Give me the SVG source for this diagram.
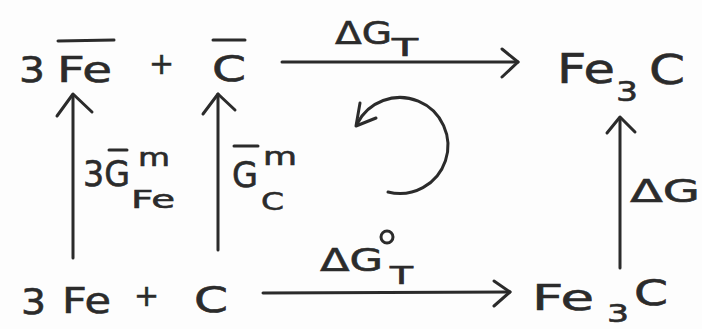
<svg xmlns="http://www.w3.org/2000/svg" width="702" height="329" viewBox="0 0 702 329">
<defs>
<style>
.t{font-family:"DejaVu Sans","Liberation Sans",sans-serif;fill:#2b2b2b;stroke:#2b2b2b;stroke-width:0.6}
.b{font-size:36px}
.s{font-size:25px}
.ln{stroke:#2b2b2b;stroke-width:3;fill:none;stroke-linecap:round;stroke-linejoin:round}
</style>
</defs>
<rect width="702" height="329" fill="#fdfdfd"/>
<g id="node-top-left">
<text class="t b" x="19" y="82" textLength="26" lengthAdjust="spacingAndGlyphs">3</text>
<text class="t b" x="57" y="82" textLength="55" lengthAdjust="spacingAndGlyphs">Fe</text>
<line class="ln" x1="58" y1="41" x2="114" y2="40"/>
<text class="t" x="149" y="74" font-size="30">+</text>
<text class="t b" x="212" y="81" textLength="34" lengthAdjust="spacingAndGlyphs">C</text>
<line class="ln" x1="213" y1="40" x2="245" y2="40"/>
</g>
<g id="node-top-right">
<text class="t" x="557" y="83" font-size="40" textLength="58" lengthAdjust="spacingAndGlyphs">Fe</text>
<text class="t" x="616" y="101" font-size="27" textLength="22" lengthAdjust="spacingAndGlyphs">3</text>
<text class="t" x="649" y="84" font-size="40" textLength="36" lengthAdjust="spacingAndGlyphs">C</text>
</g>
<g id="node-bottom-left">
<text class="t b" x="21" y="314" textLength="25" lengthAdjust="spacingAndGlyphs">3</text>
<text class="t b" x="62" y="313" textLength="49" lengthAdjust="spacingAndGlyphs">Fe</text>
<text class="t" x="134" y="306" font-size="30">+</text>
<text class="t b" x="194" y="312" textLength="34" lengthAdjust="spacingAndGlyphs">C</text>
</g>
<g id="node-bottom-right">
<text class="t b" x="532" y="310" textLength="62" lengthAdjust="spacingAndGlyphs">Fe</text>
<text class="t" x="607" y="322" font-size="24" textLength="22" lengthAdjust="spacingAndGlyphs">3</text>
<text class="t b" x="634" y="305" textLength="34" lengthAdjust="spacingAndGlyphs">C</text>
</g>
<g id="connectors">
<line class="ln" x1="282" y1="62" x2="518" y2="62"/>
<polyline class="ln" points="502,49 518,62 502,77"/>
<line class="ln" x1="263" y1="293" x2="510" y2="292"/>
<polyline class="ln" points="494,281 510,292 494,306"/>
<line class="ln" x1="73" y1="258" x2="73" y2="95"/>
<polyline class="ln" points="57,116 73,94 92,112"/>
<line class="ln" x1="218" y1="250" x2="218" y2="94"/>
<polyline class="ln" points="203,114 218,94 235,110"/>
<line class="ln" x1="620" y1="268" x2="620" y2="118"/>
<polyline class="ln" points="607,133 620,117 635,132"/>
<path class="ln" d="M 388 192 A 48 48 0 1 0 357 124"/>
<polyline class="ln" points="360,103 356,126 376,118"/>
</g>
<g id="labels">
<text class="t" x="335" y="44" font-size="32" textLength="57" lengthAdjust="spacingAndGlyphs">ΔG</text>
<text class="t" x="392" y="56" font-size="24" textLength="26" lengthAdjust="spacingAndGlyphs">T</text>
<text class="t" x="320" y="271" font-size="32" textLength="63" lengthAdjust="spacingAndGlyphs">ΔG</text>
<circle cx="387" cy="237" r="6" class="ln" stroke-width="2.5"/>
<text class="t" x="390" y="284" font-size="24" textLength="23" lengthAdjust="spacingAndGlyphs">T</text>
<text class="t b" x="83" y="186" textLength="47" lengthAdjust="spacingAndGlyphs">3G</text>
<line class="ln" x1="109" y1="150" x2="127" y2="150"/>
<text class="t s" x="138" y="166" textLength="32" lengthAdjust="spacingAndGlyphs">m</text>
<text class="t s" x="131" y="208" textLength="44" lengthAdjust="spacingAndGlyphs">Fe</text>
<text class="t b" x="232" y="187" textLength="26" lengthAdjust="spacingAndGlyphs">G</text>
<line class="ln" x1="234" y1="146" x2="258" y2="146"/>
<text class="t s" x="263" y="165" textLength="34" lengthAdjust="spacingAndGlyphs">m</text>
<text class="t s" x="261" y="210" textLength="23" lengthAdjust="spacingAndGlyphs">C</text>
<text class="t" x="630" y="202" font-size="32" textLength="70" lengthAdjust="spacingAndGlyphs">ΔG</text>
</g>
</svg>
